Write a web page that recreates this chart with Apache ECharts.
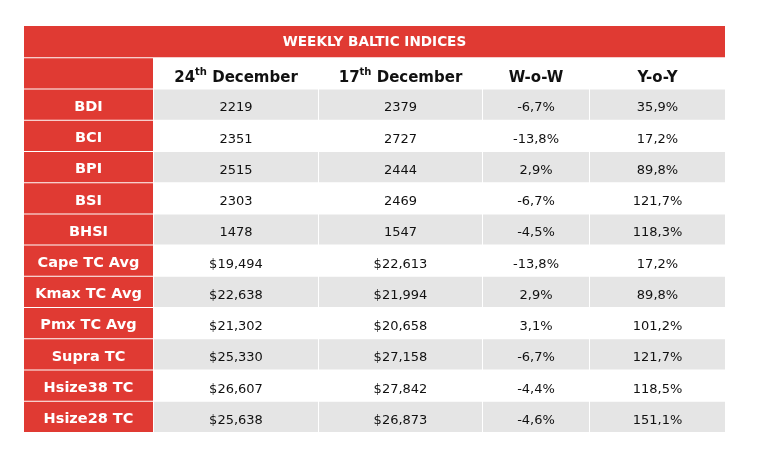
<!DOCTYPE html>
<html>
<head>
<meta charset="utf-8">
<script src="https://cdn.jsdelivr.net/npm/echarts@6/dist/echarts.min.js"></script>
<style>
  html, body { margin: 0; padding: 0; background: #fff; }
  #main { width: 775px; height: 460px; }
</style>
</head>
<body>
<div id="main"></div>
<script>
// table content
const title = 'WEEKLY BALTIC INDICES';
const rowLabels = ['BDI', 'BCI', 'BPI', 'BSI', 'BHSI', 'Cape TC Avg', 'Kmax TC Avg', 'Pmx TC Avg', 'Supra TC', 'Hsize38 TC', 'Hsize28 TC'];
const units = ['', '', '', '', '', '$', '$', '$', '$', '$', '$'];
const dec24 = [2219, 2351, 2515, 2303, 1478, 19494, 22638, 21302, 25330, 26607, 25638];
const dec17 = [2379, 2727, 2444, 2469, 1547, 22613, 21994, 20658, 27158, 27842, 26873];
const wow = [-6.7, -13.8, 2.9, -6.7, -4.5, -13.8, 2.9, 3.1, -6.7, -4.4, -4.6];
const yoy = [35.9, 17.2, 89.8, 121.7, 118.3, 17.2, 89.8, 101.2, 121.7, 118.5, 151.1];

const RED = '#e03a33';
const GREY = '#e5e5e5';
const TXT = '#111';
const FONT = '"DejaVu Sans", Verdana, sans-serif';

// column edges in pixels from the table's left side
const colEdges = [0, 129, 294, 458, 565, 701];

function fmtValue(v, unit) {
    return unit === '$' ? '$' + v.toLocaleString('en-US') : String(v);
}
function fmtPct(v) {
    return v.toFixed(1).replace('.', ',') + '%';
}

// rows: 0 = title, 1 = header, 2.. = data
const rowNames = ['title', 'header'].concat(rowLabels);
const cells = [];
cells.push([0, 0, title, 'title']);
cells.push([0, 1, '', 'label']);
cells.push([1, 1, '{b|24}{s|th}{b| December}', 'head']);
cells.push([2, 1, '{b|17}{s|th}{b| December}', 'head']);
cells.push([3, 1, '{b|W-o-W}', 'head']);
cells.push([4, 1, '{b|Y-o-Y}', 'head']);
rowLabels.forEach((name, i) => {
    const r = i + 2;
    cells.push([0, r, name, 'label']);
    cells.push([1, r, fmtValue(dec24[i], units[i]), 'val']);
    cells.push([2, r, fmtValue(dec17[i], units[i]), 'val']);
    cells.push([3, r, fmtPct(wow[i]), 'val']);
    cells.push([4, r, fmtPct(yoy[i]), 'val']);
});

function renderCell(params, api) {
    const col = api.value(0);
    const row = api.value(1);
    const kind = cells[params.dataIndex][3];
    const text = cells[params.dataIndex][2];
    const h = api.size([0, 1])[1];
    let x0 = colEdges[col], x1 = colEdges[col + 1];
    if (kind === 'title') { x0 = 0; x1 = colEdges[colEdges.length - 1]; }
    const p0 = api.coord([x0, row]);
    const p1 = api.coord([x1, row]);
    const top = p0[1] - h / 2;
    const left = p0[0] + (col > 0 ? 1 : 0);
    const w = p1[0] - left;
    const rectY = row > 0 ? top + 1 : top;
    const rectH = row > 0 ? h - 1 : h;

    let fill = null;
    if (kind === 'title' || kind === 'label') fill = RED;
    else if (kind === 'val' && (row - 2) % 2 === 0) fill = GREY;

    const children = [];
    if (fill) {
        children.push({
            type: 'rect',
            shape: { x: left, y: rectY, width: w, height: rectH },
            style: { fill: fill }
        });
    }
    const cx = left + w / 2;
    const cy = top + h / 2;
    let style;
    if (kind === 'title') {
        style = { text: text, x: cx, y: cy + 1, align: 'center', verticalAlign: 'middle',
            fill: '#fff', font: 'bold 13.6px ' + FONT };
    } else if (kind === 'label') {
        style = { text: text, x: cx, y: cy + 3, align: 'center', verticalAlign: 'middle',
            fill: '#fff', font: 'bold 14.5px ' + FONT };
    } else if (kind === 'head') {
        style = { text: text, x: cx, y: cy + 4, align: 'center', verticalAlign: 'middle',
            rich: {
                b: { fontFamily: FONT, fontWeight: 'bold', fontSize: 15, lineHeight: 18, fill: TXT, verticalAlign: 'bottom' },
                s: { fontFamily: FONT, fontWeight: 'bold', fontSize: 10, lineHeight: 18, fill: TXT, verticalAlign: 'top' }
            } };
    } else {
        style = { text: text, x: cx, y: cy + 4, align: 'center', verticalAlign: 'middle',
            fill: TXT, font: '13px ' + FONT };
    }
    children.push({ type: 'text', style: style });
    return { type: 'group', children: children };
}

const chart = echarts.init(document.getElementById('main'));
chart.setOption({
    animation: false,
    backgroundColor: '#fff',
    grid: { left: 24, right: 50, top: 26, bottom: 28 },
    xAxis: { type: 'value', min: 0, max: colEdges[colEdges.length - 1], show: false },
    yAxis: { type: 'category', data: rowNames, inverse: true, show: false },
    series: [{
        type: 'custom',
        renderItem: renderCell,
        encode: { x: 0, y: 1 },
        data: cells.map(c => [c[0], c[1]])
    }]
});
</script>
</body>
</html>
